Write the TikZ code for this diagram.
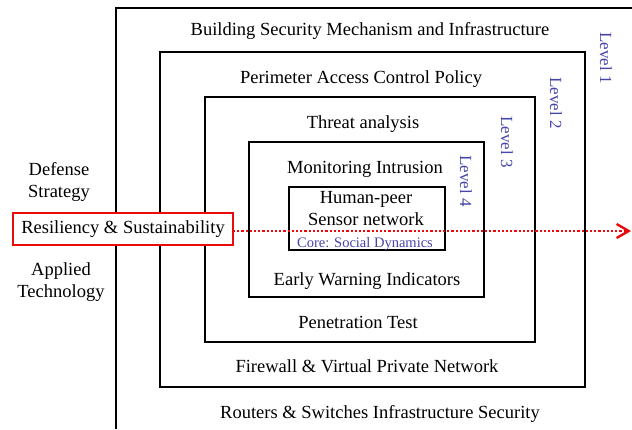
\documentclass[tikz,border=0pt]{standalone}
\usepackage{fontspec}
\setmainfont{Liberation Serif}
\usetikzlibrary{arrows.meta}
\definecolor{lvblue}{RGB}{70,70,170}
\definecolor{myred}{RGB}{235,10,10}
\begin{document}
\begin{tikzpicture}[x=1pt,y=-1pt,
  frame/.style={draw=black,line width=1.8pt},
  lbl/.style={font=\fontsize{18.5}{22}\selectfont,align=center,inner sep=0pt},
  lvl/.style={font=\fontsize{17}{18}\selectfont,text=lvblue,rotate=-90,inner sep=0pt}]
\useasboundingbox (0,0) rectangle (632,429);
\fill[white] (0,0) rectangle (632,429);
% frames
\draw[frame] (116,429) -- (116,8) -- (640,8);
\draw[frame] (160,52) rectangle (585,387);
\draw[frame] (205,97) rectangle (535,342);
\draw[frame] (249,142) rectangle (484,297);
\draw[frame] (289,187) rectangle (445,250);
% level labels
\node[lvl] (l1) at (606,58) {Level 1};
\node[lvl] (l2) at (556,103) {Level 2};
\node[lvl] (l3) at (507,142) {Level 3};
\node[lvl] (l4) at (466,181) {Level 4};
% texts
\node[lbl] (t1) at (370,31) {Building Security Mechanism and Infrastructure};
\node[lbl] (t2) at (361,79) {Perimeter Access Control Policy};
\node[lbl] (t3) at (363,124) {Threat analysis};
\node[lbl] (t4) at (365,169) {Monitoring Intrusion};
\node[lbl] (t5) at (366,209) {Human-peer\\Sensor network};
\node[lbl,font=\fontsize{14.5}{16}\selectfont,text=lvblue] (t6) at (365,244) {Core: Social Dynamics};
\node[lbl] (t7) at (367,281) {Early Warning Indicators};
\node[lbl] (t8) at (358,322) {Penetration Test};
\node[lbl] (t9) at (367,366) {Firewall \& Virtual Private Network};
\node[lbl] (t10) at (380,414) {Routers \& Switches Infrastructure Security};
\node[lbl] (ds) at (59,182) {Defense\\Strategy};
\node[lbl] (at) at (61,282) {Applied\\Technology};
\coordinate (aend) at (631,231);
\draw[myred,line width=2.8pt,dash pattern=on 2.2pt off 2pt,-{Straight Barb[length=12pt,width=14pt,line width=2.4pt]}] (233,231) -- (aend);
\node[lbl,draw=myred,fill=white,line width=1.6pt,minimum width=220pt,minimum height=32pt] (res) at (123,229) {Resiliency \& Sustainability};
\end{tikzpicture}
\end{document}
